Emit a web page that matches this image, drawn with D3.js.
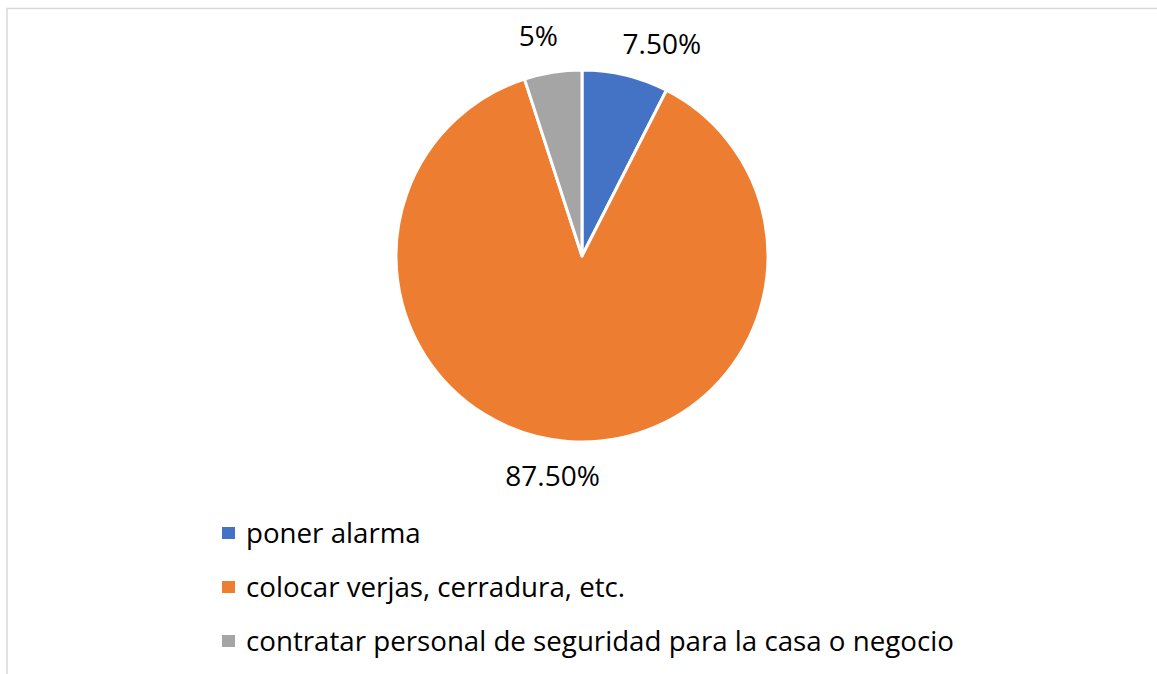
<!DOCTYPE html>
<html><head><meta charset="utf-8">
<script src="https://cdn.jsdelivr.net/npm/d3@7"></script>
<style>body{margin:0;background:#fff;}svg{display:block;}</style>
</head><body>
<svg id="chart" width="1157" height="674"></svg>
<script>
const categories = ["poner alarma", "colocar verjas, cerradura, etc.", "contratar personal de seguridad para la casa o negocio"];
const values = [7.5, 87.5, 5];
const labels = ["7.50%", "87.50%", "5%"];
const colors = ["#4472c4", "#ed7d31", "#a5a5a5"];

const svg = d3.select("#chart");
const W = 1157, H = 674;
const font = "'Open Sans', sans-serif";

svg.append("rect").attr("x", 7).attr("y", 8.5).attr("width", W + 10).attr("height", H + 10)
  .attr("fill", "#fff").attr("stroke", "#d9d9d9").attr("stroke-width", 1.5);

const cx = 582, cy = 256, R = 186;
const pie = d3.pie().value(d => d).sort(null);
const arcs = pie(values);
const arc = d3.arc().innerRadius(0).outerRadius(R);
const g = svg.append("g").attr("transform", `translate(${cx},${cy})`);
g.selectAll("path").data(arcs).join("path")
  .attr("d", arc).attr("fill", (d, i) => colors[i])
  .attr("stroke", "#fff").attr("stroke-width", 3).attr("stroke-linejoin", "round");

// outside-end labels, with Excel-like collision nudges
const labelArc = d3.arc().innerRadius(222).outerRadius(222);
const nudge = [[28, 3], [-12, -2], [-9, -2]];
g.selectAll("text.lbl").data(arcs).join("text").attr("class", "lbl")
  .attr("transform", (d, i) => { const c = labelArc.centroid(d); return `translate(${c[0] + nudge[i][0]},${c[1] + nudge[i][1]})`; })
  .attr("text-anchor", "middle").attr("dominant-baseline", "central")
  .attr("font-family", font).attr("font-size", 28).attr("fill", "#000")
  .text((d, i) => labels[i]);

// legend
const ly = d3.scalePoint().domain(categories).range([533, 641]);
const leg = svg.append("g");
const items = leg.selectAll("g").data(categories).join("g")
  .attr("transform", d => `translate(222,${ly(d)})`);
items.append("rect").attr("x", 0).attr("y", -6).attr("width", 13).attr("height", 12)
  .attr("fill", (d, i) => colors[i]);
items.append("text").attr("x", 24).attr("y", 0).attr("dy", "0.35em")
  .attr("font-family", font).attr("font-size", 27.7).attr("fill", "#000").text(d => d);
</script>
</body></html>
